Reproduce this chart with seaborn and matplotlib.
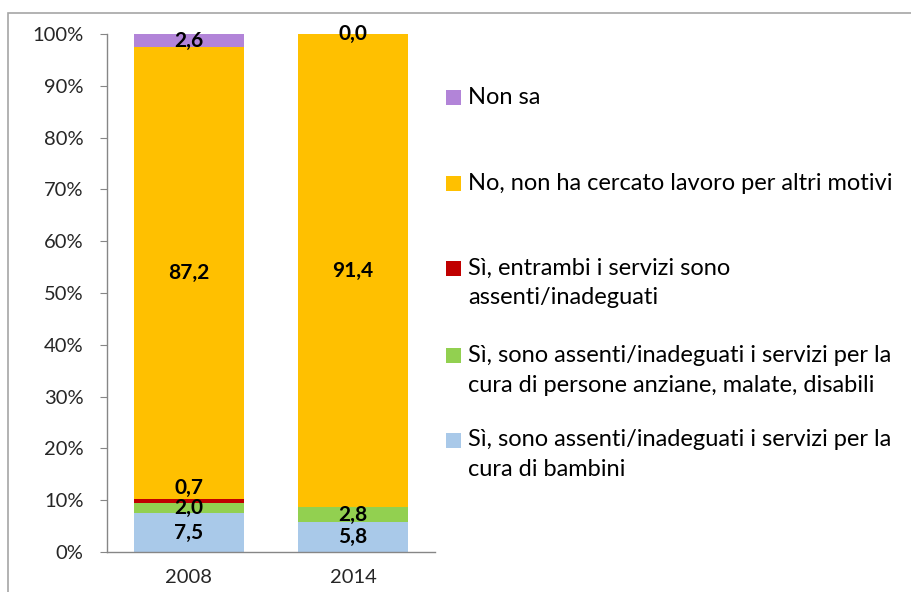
import numpy as np
import pandas as pd
import matplotlib
matplotlib.use("Agg")
import matplotlib.pyplot as plt
from matplotlib.patches import Rectangle
import seaborn as sns

# Dati (percentuali)
anni = ["2008", "2014"]
bambini = [7.5, 5.8]
anziani = [2.0, 2.8]
entrambi = [0.7, np.nan]
altri_motivi = [87.2, 91.4]
non_sa = [2.6, 0.0]

serie = ["Sì, sono assenti/inadeguati i servizi per la cura di bambini",
         "Sì, sono assenti/inadeguati i servizi per la cura di persone anziane, malate, disabili",
         "Sì, entrambi i servizi sono assenti/inadeguati",
         "No, non ha cercato lavoro per altri motivi",
         "Non sa"]
righe_legenda = [["Sì, sono assenti/inadeguati i servizi per la", "cura di bambini"],
                 ["Sì, sono assenti/inadeguati i servizi per la", "cura di persone anziane, malate, disabili"],
                 ["Sì, entrambi i servizi sono", "assenti/inadeguati"],
                 ["No, non ha cercato lavoro per altri motivi"],
                 ["Non sa"]]
colori = ["#A9C9E9", "#92D050", "#C00000", "#FFC000", "#B284D8"]

valori = [bambini, anziani, entrambi, altri_motivi, non_sa]

sns.set_style("white")
plt.rcParams["font.family"] = ["Lato", "DejaVu Sans"]

fig = plt.figure(figsize=(9.12, 5.92), dpi=100)
ax = fig.add_axes([107 / 912, 1 - 552 / 592, 328 / 912, 518 / 592])

# cornice esterna
fig.patches.append(Rectangle((8 / 912, -0.02), 1.02, 1 - 13 / 592 + 0.02,
                             transform=fig.transFigure, fill=False,
                             edgecolor="#A6A6A6", linewidth=1.2))

# barre impilate: cumulate disegnate dall'alto verso il basso
cum = np.nancumsum(np.array(valori, dtype=float), axis=0)
for i in range(len(serie) - 1, -1, -1):
    df = pd.DataFrame({"anno": anni, "valore": cum[i] / 100})
    sns.barplot(data=df, x="anno", y="valore", color=colori[i], width=0.67,
                saturation=1, linewidth=0, ax=ax)

# etichette dati
spost = {(0, 2): 13}
for i, s in enumerate(valori):
    for j, v in enumerate(s):
        if np.isnan(v):
            continue
        centro = (cum[i][j] - v / 2) / 100
        ax.annotate(f"{v:.1f}".replace(".", ","), (j, centro),
                    xytext=(0, spost.get((j, i), 0) * 0.72), textcoords="offset points",
                    ha="center", va="center", fontsize=15, fontweight="bold",
                    color="black")

ax.set_xlim(-0.5, 1.5)
ax.set_ylim(0, 1)
ax.set_yticks(np.arange(0, 1.01, 0.1))
ax.set_yticklabels([f"{int(round(t * 100))}%" for t in np.arange(0, 1.01, 0.1)])
ax.set_xticks([-0.5, 0.5, 1.5], minor=True)
ax.tick_params(axis="x", which="minor", length=5, color="#868686", direction="out")
ax.tick_params(axis="x", which="major", length=0, labelsize=14.5, pad=12)
ax.tick_params(axis="y", length=5, color="#868686", direction="out", labelsize=14.5,
               pad=12, left=True)
ax.set_xlabel("")
ax.set_ylabel("")
for lato in ["top", "right"]:
    ax.spines[lato].set_visible(False)
for lato in ["left", "bottom"]:
    ax.spines[lato].set_color("#868686")
    ax.spines[lato].set_linewidth(1)

# legenda manuale
y_legenda = [440, 355, 268, 183, 97]
for i in range(len(serie)):
    y0 = y_legenda[i]
    fig.patches.append(Rectangle((446 / 912, 1 - (y0 + 7.5) / 592), 15 / 912, 15 / 592,
                                 transform=fig.transFigure, facecolor=colori[i],
                                 edgecolor="none"))
    for k, riga in enumerate(righe_legenda[i]):
        fig.text(468 / 912, 1 - (y0 + 30 * k) / 592, riga, ha="left", va="center",
                 fontsize=17, color="black")

fig.savefig("out.png", dpi=100)
